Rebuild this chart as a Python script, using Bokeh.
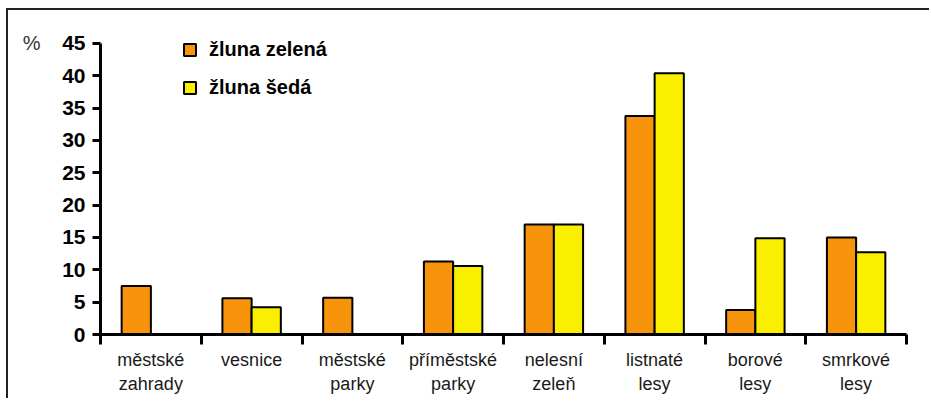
from bokeh.plotting import figure
from bokeh.models import (Range1d, FixedTicker, Legend, LegendItem, ColumnDataSource,
                          LinearAxis)
from bokeh.transform import dodge
from bokeh.embed import file_html
from bokeh.resources import INLINE

categories = ["městské\nzahrady", "vesnice", "městské\nparky", "příměstské\nparky",
              "nelesní\nzeleň", "listnaté\nlesy", "borové\nlesy", "smrkové\nlesy"]
series_names = ["žluna zelená", "žluna šedá"]
zelena = [7.5, 5.6, 5.7, 11.3, 17.0, 33.8, 3.8, 15.0]
seda = [0.0, 4.2, 0.0, 10.6, 17.0, 40.4, 14.9, 12.7]
y_ticks = [0, 5, 10, 15, 20, 25, 30, 35, 40, 45]
unit_label = "%"

ORANGE = "#F7940C"
YELLOW = "#FAEF00"
FONT = "Liberation Sans"

n = len(categories)
centers = [i + 0.5 for i in range(n)]
bw = 0.29

p = figure(width=923, height=390, output_backend="svg", toolbar_location=None,
           x_range=Range1d(0, n), y_range=Range1d(0, 47),
           min_border_left=92, min_border_right=25, min_border_top=20, min_border_bottom=66)
p.styles = {"margin-left": "6px", "margin-top": "8px",
            "border-left": "2px solid #222", "border-top": "2px solid #222"}
p.outline_line_color = None
p.xgrid.visible = False
p.ygrid.visible = False
p.background_fill_color = "white"
p.border_fill_color = "white"

src = ColumnDataSource(dict(x=centers, z=zelena, s=seda))
r1 = p.vbar(x=dodge("x", -bw / 2), top="z", width=bw, bottom=0, source=src,
            fill_color=ORANGE, line_color="black", line_width=2)
r2 = p.vbar(x=dodge("x", bw / 2), top="s", width=bw, bottom=0, source=src,
            fill_color=YELLOW, line_color="black", line_width=2)

# y axis
ya = p.yaxis[0]
ya.ticker = FixedTicker(ticks=y_ticks)
ya.bounds = (y_ticks[0], y_ticks[-1])
ya.axis_line_width = 3
ya.axis_line_color = "black"
ya.major_tick_line_width = 3
ya.major_tick_out = 8
ya.major_tick_in = 0
ya.minor_tick_line_color = None
ya.major_label_text_font = FONT
ya.major_label_text_font_style = "bold"
ya.major_label_text_font_size = "21px"
ya.major_label_text_color = "black"
ya.major_label_standoff = 7

# unit axis ("%") at the top of the y axis
ua = LinearAxis(ticker=FixedTicker(ticks=[y_ticks[-1]]),
                major_label_overrides={y_ticks[-1]: unit_label})
ua.axis_line_color = None
ua.major_tick_line_color = None
ua.minor_tick_line_color = None
ua.major_tick_out = 0
ua.major_tick_in = 0
ua.major_label_standoff = 19
ua.major_label_text_font = FONT
ua.major_label_text_font_size = "20px"
ua.major_label_text_color = "#333333"
p.add_layout(ua, "left")

# x axis
xa = p.xaxis[0]
xa.ticker = FixedTicker(ticks=centers, minor_ticks=list(range(n + 1)))
xa.major_label_overrides = {c: lab for c, lab in zip(centers, categories)}
xa.axis_line_width = 3
xa.axis_line_color = "black"
xa.major_tick_line_color = None
xa.major_tick_out = 10
xa.major_tick_in = 0
xa.minor_tick_line_width = 3
xa.minor_tick_line_color = "black"
xa.minor_tick_out = 10
xa.minor_tick_in = 0
xa.major_label_text_font = FONT
xa.major_label_text_font_size = "18px"
xa.major_label_text_color = "#1a1a1a"
xa.major_label_standoff = 5

legend = Legend(items=[LegendItem(label=series_names[0], renderers=[r1]),
                       LegendItem(label=series_names[1], renderers=[r2])],
                location=(82, 235))
legend.label_text_font = FONT
legend.label_text_font_style = "bold"
legend.label_text_font_size = "20px"
legend.label_text_color = "black"
legend.glyph_width = 15
legend.glyph_height = 15
legend.label_standoff = 12
legend.spacing = 15
legend.padding = 0
legend.margin = 0
legend.border_line_color = None
legend.background_fill_alpha = 0
p.add_layout(legend)

open("out.html", "w").write(file_html(p, INLINE))
